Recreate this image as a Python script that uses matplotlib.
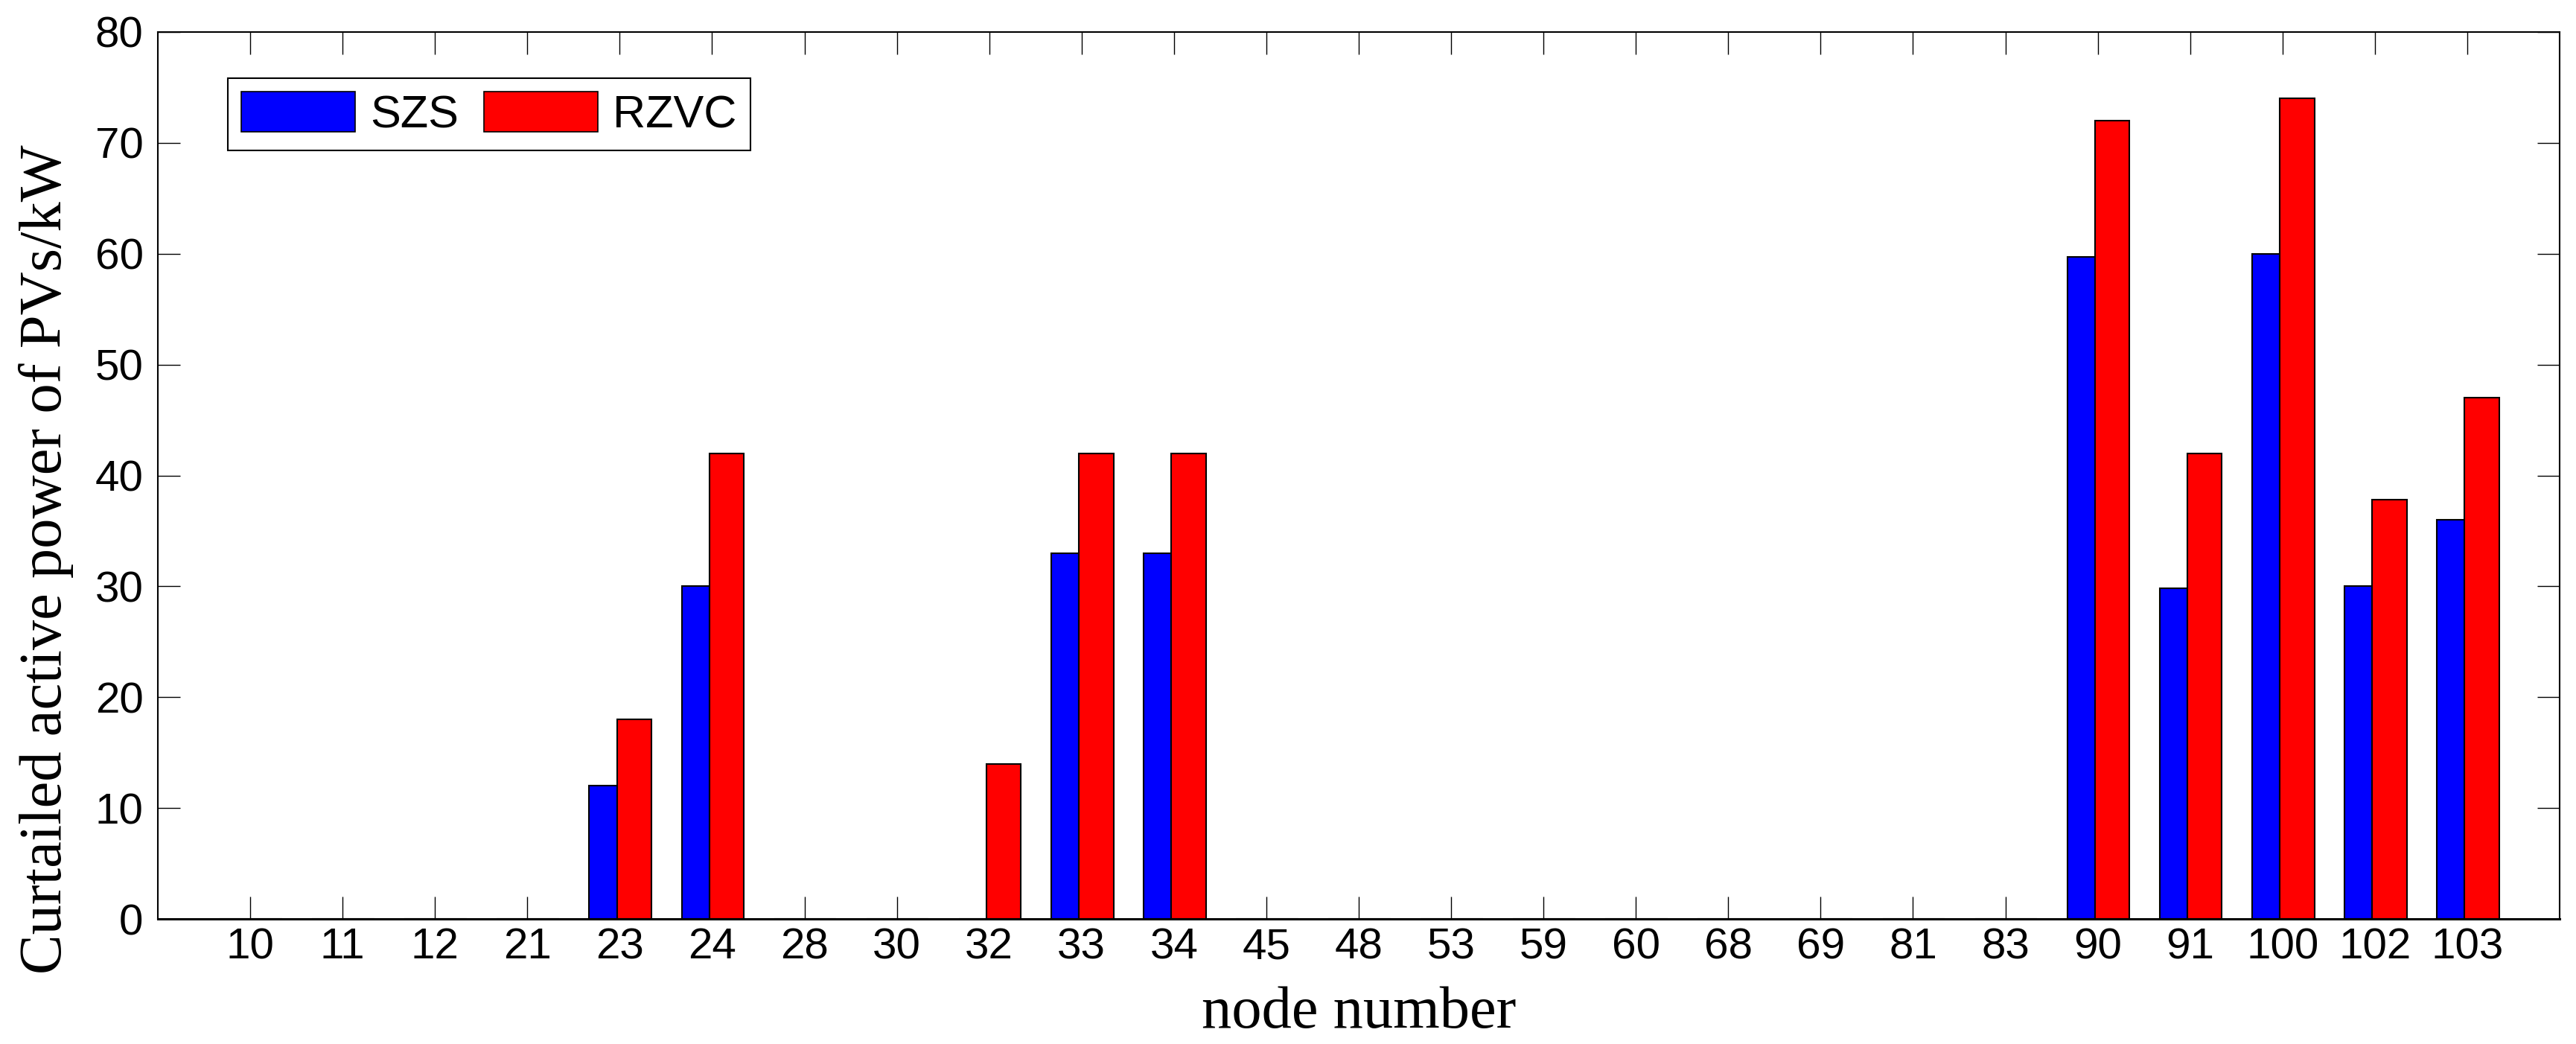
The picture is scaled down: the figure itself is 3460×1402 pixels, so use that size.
import matplotlib
matplotlib.use("Agg")
import matplotlib.pyplot as plt
import numpy as np
from matplotlib.patches import Patch

nodes = ["10", "11", "12", "21", "23", "24", "28", "30", "32", "33", "34", "45", "48",
         "53", "59", "60", "68", "69", "81", "83", "90", "91", "100", "102", "103"]
szs = [0, 0, 0, 0, 12, 30, 0, 0, 0, 33, 33, 0, 0,
       0, 0, 0, 0, 0, 0, 0, 59.7, 29.8, 60, 30, 36]
rzvc = [0, 0, 0, 0, 18, 42, 0, 0, 14, 42, 42, 0, 0,
        0, 0, 0, 0, 0, 0, 0, 72, 42, 74, 37.8, 47]
yticks = [0, 10, 20, 30, 40, 50, 60, 70, 80]

W, H = 3460, 1402
fig = plt.figure(figsize=(W / 100, H / 100), dpi=100)
ax = fig.add_axes([212 / W, 1 - 1234 / H, (3438 - 212) / W, (1234 - 43) / H])

x = np.arange(len(nodes))
ax.bar(x - 0.33, szs, width=0.30, align="edge", color="#0000ff",
       edgecolor="black", linewidth=1.5, zorder=2)
ax.bar(x - 0.03, rzvc, width=0.375, align="edge", color="#ff0000",
       edgecolor="black", linewidth=1.5, zorder=2)

ax.set_xlim(-1, len(nodes))
ax.set_ylim(0, 80)
ax.set_xticks(x)
ax.set_xticklabels(nodes)
ax.set_yticks(yticks)

tickfont = "Liberation Sans"
for lab in ax.get_xticklabels() + ax.get_yticklabels():
    lab.set_fontfamily(tickfont)
    lab.set_fontsize(42)

ax.tick_params(axis="both", direction="in", top=True, right=True,
               length=21.6, width=1.0, color="black")
ax.tick_params(axis="x", pad=8)
ax.tick_params(axis="y", pad=14)

for s in ["top", "left", "right"]:
    ax.spines[s].set_linewidth(1.5)
ax.spines["bottom"].set_linewidth(2.2)
for s in ax.spines.values():
    s.set_zorder(5)

fig.text(62 / W, 1 - 751 / H, "Curtailed active power of PVs/kW",
         rotation=90, ha="center", va="center",
         family="Liberation Serif", fontsize=58)
fig.text(1825 / W, 1 - 1380 / H, "node number", ha="center", va="baseline",
         family="Liberation Serif", fontsize=58)

handles = [Patch(facecolor="#0000ff", edgecolor="black", linewidth=1.2, label="SZS"),
           Patch(facecolor="#ff0000", edgecolor="black", linewidth=1.2, label="RZVC")]
leg = ax.legend(handles=handles, loc="upper left",
                bbox_to_anchor=(306 / W, 1 - 105 / H), bbox_transform=fig.transFigure,
                ncol=2, prop={"family": tickfont, "size": 44},
                handlelength=2.5, handleheight=0.97, handletextpad=0.33,
                columnspacing=0.56, borderpad=0.3, borderaxespad=0,
                fancybox=False, framealpha=1, edgecolor="black")
leg.get_frame().set_linewidth(1.5)

fig.savefig("out.png", dpi=100)
